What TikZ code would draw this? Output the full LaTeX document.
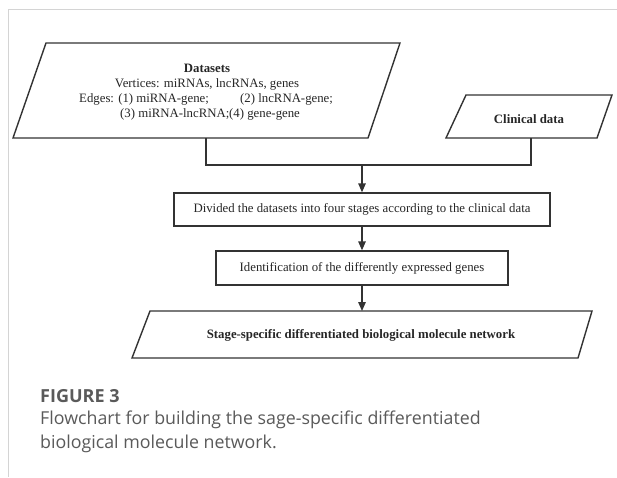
\documentclass[tikz,border=0pt]{standalone}
\usepackage{fontspec}
\setmainfont{Liberation Serif}
\newfontfamily\capfont{Open Sans}
\usetikzlibrary{arrows.meta}
\definecolor{linec}{HTML}{333333}
\definecolor{capc}{HTML}{5A5A5A}
\definecolor{framec}{HTML}{D4D4D4}
\begin{document}
\begin{tikzpicture}[x=1pt,y=-1pt,
  pshape/.style={draw=linec,line width=1.4pt,line join=miter},
  conn/.style={draw=linec,line width=1.4pt},
  arr/.style={conn,-{Triangle[length=9pt,width=7.5pt]}},
  txt/.style={inner sep=0pt,font=\fontsize{12.8}{14}\selectfont,text=black!85},
  btxt/.style={txt,font=\fontsize{12.8}{14}\selectfont\bfseries},
  captxt/.style={inner sep=0pt,anchor=base west,text=capc}]
\useasboundingbox (0,0) rectangle (617,477);
\fill[white] (0,0) rectangle (617,477);
\draw[framec,line width=1pt] (617,9) -- (8,9) -- (8,477);
% parallelograms
\draw[pshape] (46,43) -- (400,43) -- (368,138) -- (13,138) -- cycle;
\draw[pshape] (466,95) -- (612,95) -- (597,138) -- (446,138) -- cycle;
\draw[pshape] (150,311) -- (592,311) -- (578,358) -- (132,358) -- cycle;
\coordinate (dsb) at (206,138);
\coordinate (clb) at (531,138);
\coordinate (join) at (362,165);
% texts
\node[btxt] (ds) at (207,68) {Datasets};
\node[txt] (vt) at (207,84) {Vertices: miRNAs, lncRNAs, genes};
\node[txt,anchor=west] (e1) at (79,99) {Edges: (1) miRNA-gene;};
\node[txt,anchor=west] (e1b) at (240,99) {(2) lncRNA-gene;};
\node[txt,anchor=west] (e2) at (120,114) {(3) miRNA-lncRNA;};
\node[txt,anchor=west] (e2b) at (229,114) {(4) gene-gene};
\node[btxt] (cl) at (529,119) {Clinical data};
\node[draw=linec,line width=1.4pt,txt,minimum width=376pt,minimum height=33pt] (b1) at (362,209.5) {Divided the datasets into four stages according to the clinical data};
\node[draw=linec,line width=1.4pt,txt,minimum width=292pt,minimum height=34pt] (b2) at (362,268) {Identification of the differently expressed genes};
\node[btxt] (net) at (361,335) {Stage-specific differentiated biological molecule network};
\coordinate (nett) at (362,311);
% connectors
\draw[conn] (dsb) |- (join) -| (clb);
\draw[arr] (join) -- (b1.north);
\draw[arr] (b1.south) -- (b2.north);
\draw[arr] (b2.south) -- (nett);
% caption
\node[captxt,font=\capfont\fontsize{18}{20}\selectfont\bfseries] (fig) at (40,402) {FIGURE 3};
\node[captxt,font=\capfont\fontsize{17.8}{20}\selectfont] (c1) at (40,424) {Flowchart for building the sage-specific differentiated};
\node[captxt,font=\capfont\fontsize{17.8}{20}\selectfont] (c2) at (40,448) {biological molecule network.};
\end{tikzpicture}
\end{document}
